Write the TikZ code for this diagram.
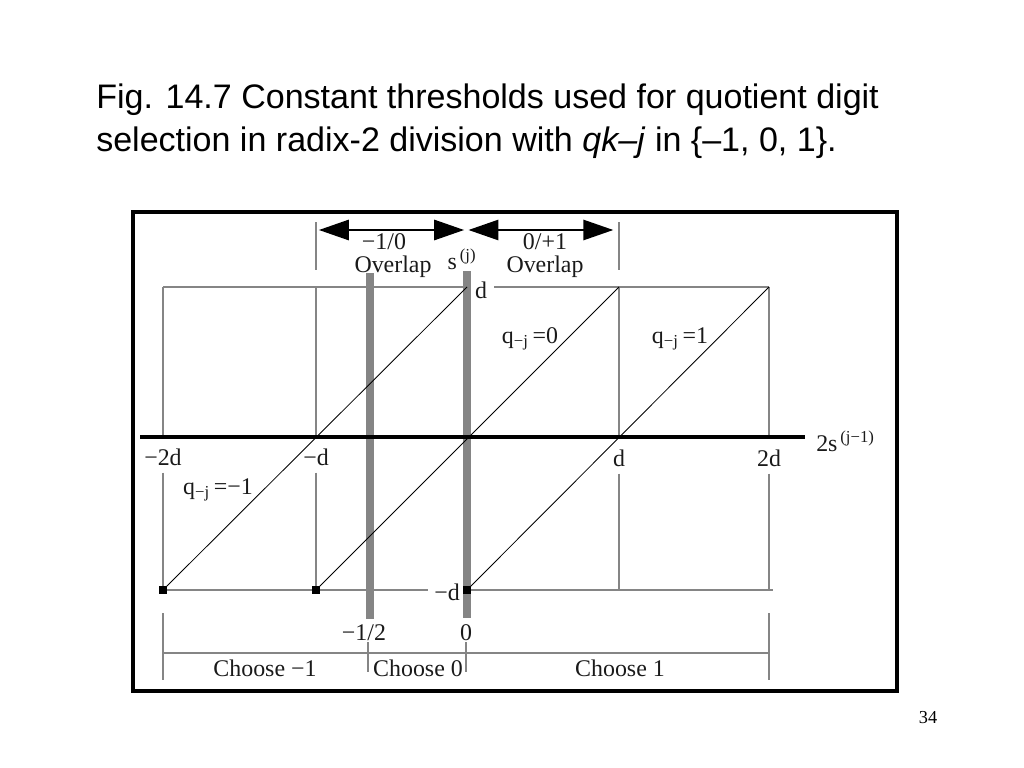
\documentclass[tikz,border=0pt]{standalone}
\usepackage{fontspec}
\setmainfont{Liberation Serif}
\newfontfamily\titlefont{Liberation Sans}
\usetikzlibrary{arrows.meta,positioning}
\definecolor{gridgray}{HTML}{858585}
\definecolor{ink}{HTML}{1A1A1A}

\begin{document}
\begin{tikzpicture}[
    x=0.025cm,y=-0.025cm,
    grid/.style={draw=gridgray,line width=2pt},
    bar/.style={draw=gridgray,line width=5.5pt},
    axis/.style={draw=black,line width=2.2pt},
    diag/.style={draw=black,line width=0.6pt},
    span/.style={draw=black,line width=2pt,{Triangle[length=0.75cm,width=0.5cm]}-{Triangle[length=0.75cm,width=0.5cm]}},
    lbl/.style={font=\fontsize{17}{19}\selectfont,text=ink,inner sep=0pt},
    title/.style={font=\titlefont\fontsize{24.2}{30}\selectfont,anchor=base west,inner sep=0pt},
    dot/.style={fill=black,minimum size=5pt,inner sep=0pt}
  ]
    \useasboundingbox (0,0) rectangle (1024,768);
    % title and page number
    \node[title] (title1) at (96,109) {Fig. 14.7 Constant thresholds used for quotient digit};
    \node[title] (title2) at (96,151) {selection in radix-2 division with \textit{qk–j} in \{–1, 0, 1\}.};
    \node[font=\fontsize{13}{15}\selectfont,inner sep=0pt] (page) at (928,718) {34};
    % frame
    \draw[line width=2.9pt] (133,212) rectangle (897,691);
    % grid points
    \foreach \x/\n in {163/m2,316/m1,467/z,619/p1,769/p2} {
      \coordinate (top-\n) at (\x,287);
      \coordinate (ax-\n) at (\x,437);
      \coordinate (bot-\n) at (\x,590);
    }
    % value labels on the axis
    \node[lbl] (lm2) at (163,457) {−2d};
    \node[lbl] (lm1) at (316,457) {−d};
    \node[lbl] (lp1) at (619,458) {d};
    \node[lbl] (lp2) at (769,458) {2d};
    \node[lbl] (ld) at (481,290) {d};
    \node[lbl] (lmd) at (447,592) {−d};
    % vertical grid lines
    \foreach \n in {m2,m1,p1,p2} {
      \draw[grid] (top-\n) -- (ax-\n);
      \draw[grid] ([yshift=-5pt]l\n.south -| bot-\n) -- (bot-\n);
    }
    % horizontal lines at d and -d
    \draw[grid] (top-m2) -- (top-z);
    \draw[grid] ([xshift=5pt]ld.east |- top-z) -- (top-p2);
    \draw[grid] (bot-m2) -- ([xshift=-4pt]lmd.west |- bot-z);
    \draw[grid] (bot-z) -- ([xshift=3]bot-p2);
    % thresholds
    \draw[bar] (370,273) -- (370,619);
    \draw[bar] (467,271) -- (467,618);
    % horizontal axis
    \draw[axis] (140,437) -- (805,437);
    \node[lbl,anchor=west] (xlab) at (816,441) {2s\textsuperscript{\,(j−1)}};
    % digit lines
    \draw[diag] (bot-m2) -- (top-z);
    \draw[diag] (bot-m1) -- (top-p1);
    \draw[diag] (bot-z) -- (top-p2);
    \foreach \n in {m2,m1,z}
      \node[dot] (dot-\n) at (bot-\n) {};
    \node[lbl] (qm) at (218,490) {q\textsubscript{−j}\,=−1};
    \node[lbl] (qz) at (530,339) {q\textsubscript{−j}\,=0};
    \node[lbl] (qp) at (680,339) {q\textsubscript{−j}\,=1};
    % overlap regions
    \coordinate (ovl) at (316,230);
    \coordinate (ovm) at (467,230);
    \coordinate (ovr) at (619,230);
    \draw[grid] (316,222) -- (316,270);
    \draw[grid] (619,222) -- (619,270);
    \draw[span] ([xshift=2]ovl) -- ([xshift=-2]ovm);
    \draw[span] ([xshift=1]ovm) -- ([xshift=-4]ovr);
    \node[lbl] (ov1) at (384,242) {−1/0};
    \node[lbl] (ov1b) at (393,267) {Overlap};
    \node[lbl] (ov2) at (545,242) {0/+1};
    \node[lbl] (ov2b) at (545,267) {Overlap};
    \node[lbl] (ylab) at (462,259) {s\textsuperscript{\,(j)}};
    % choice ranges
    \node[lbl] (th1) at (364,633) {−1/2};
    \node[lbl] (th0) at (466,633) {0};
    \draw[grid] (163,613) -- (163,680);
    \draw[grid] (769,613) -- (769,680);
    \draw[grid] (163,653) -- (769,653);
    \draw[grid] (368,642) -- (368,672);
    \draw[grid] (466,642) -- (466,672);
    \node[lbl] (ch1) at (265,668) {Choose −1};
    \node[lbl] (ch2) at (418,668) {Choose 0};
    \node[lbl] (ch3) at (620,668) {Choose 1};
  \end{tikzpicture}
\end{document}
